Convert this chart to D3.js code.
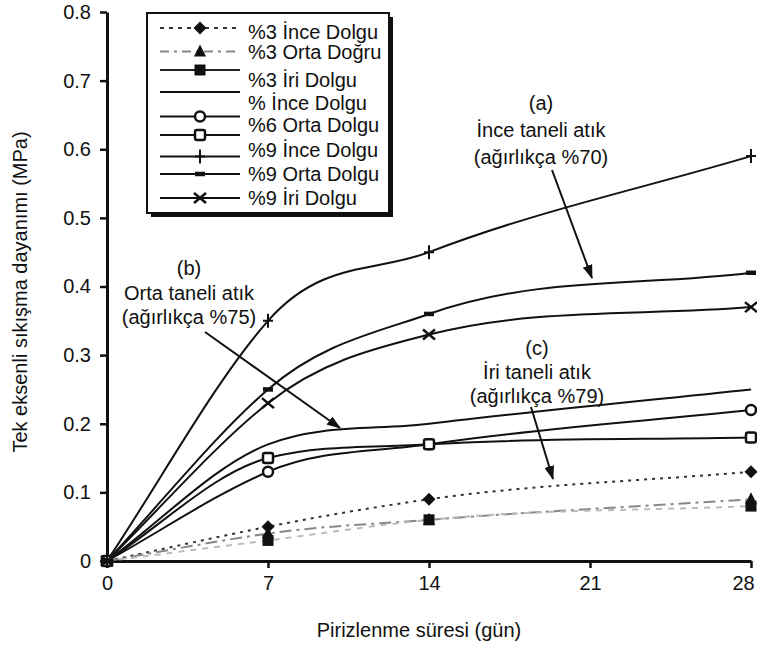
<!DOCTYPE html>
<html>
<head>
<meta charset="utf-8">
<script src="https://cdn.jsdelivr.net/npm/d3@7"></script>
<style>
  html, body { margin: 0; padding: 0; background: #fff; }
  svg text { font-family: "Liberation Sans", Arial, Helvetica, sans-serif; fill: #111; }
</style>
</head>
<body>
<svg id="chart" width="757" height="648"></svg>
<script>
// Curing time (days)
const days = [0, 7, 14, 28];

// Uniaxial compressive strength (MPa) per mix
const ince3 = [0, 0.05, 0.09, 0.13];
const orta3 = [0, 0.04, 0.06, 0.09];
const iri3  = [0, 0.03, 0.06, 0.08];
const ince6 = [0, 0.17, 0.20, 0.25];
const orta6 = [0, 0.15, 0.17, 0.18];
const iri6  = [0, 0.13, 0.17, 0.22];
const ince9 = [0, 0.35, 0.45, 0.59];
const orta9 = [0, 0.25, 0.36, 0.42];
const iri9  = [0, 0.23, 0.33, 0.37];

const xTicks = [0, 7, 14, 21, 28];
const yTicks = [0, 0.1, 0.2, 0.3, 0.4, 0.5, 0.6, 0.7, 0.8];

const legendLabels = [
  "%3 İnce Dolgu", "%3 Orta Doğru", "%3 İri Dolgu", "% İnce Dolgu",
  "%6 Orta Dolgu", "%9 İnce Dolgu", "%9 Orta Dolgu", "%9 İri Dolgu"
];

const series = [
  { values: ince3, symbol: "diamond",  color: "#333", dash: "3,5",      legendDash: "4,5" },
  { values: orta3, symbol: "triangle", color: "#888", dash: "12,5,3,5", legendDash: "9,5,3,5" },
  { values: iri3,  symbol: "square",   color: "#bbb", dash: "6,6",      legendDash: null, legendColor: "#222" },
  { values: ince6, symbol: "none",     color: "#111", dash: null },
  { values: iri6,  symbol: "circle",   color: "#111", dash: null },
  { values: orta6, symbol: "osquare",  color: "#111", dash: null },
  { values: ince9, symbol: "plus",     color: "#111", dash: null },
  { values: orta9, symbol: "dash",     color: "#111", dash: null },
  { values: iri9,  symbol: "x",        color: "#111", dash: null }
];

const annotations = [
  { lines: ["(a)", "İnce taneli atık", "(ağırlıkça %70)"], x: 541, y: 103, step: 27, from: [552, 170], to: [592, 278] },
  { lines: ["(b)", "Orta taneli atık", "(ağırlıkça %75)"], x: 189, y: 268, step: 24.5, from: [205, 332], to: [340, 428] },
  { lines: ["(c)", "İri taneli atık", "(ağırlıkça %79)"],  x: 537, y: 348, step: 24, from: [531, 407], to: [553, 479] }
];

const svg = d3.select("#chart");
const margin = { left: 107, top: 12, right: 6, bottom: 87 };
const W = 757, H = 648;
const fontSize = 20;

const x = d3.scaleLinear().domain([0, 28]).range([margin.left, W - margin.right]);
const y = d3.scaleLinear().domain([0, 0.8]).range([H - margin.bottom, margin.top]);

// Smooth curve through the points: cubic Hermite whose tangents lean on the
// incoming slope, limited so the curve does not overshoot.
function curveLeaning(context) { return new Leaning(context); }
class Leaning {
  constructor(context) { this._context = context; }
  areaStart() { this._line = 0; }
  areaEnd() { this._line = NaN; }
  lineStart() { this._pts = []; }
  point(px, py) { this._pts.push([+px, +py]); }
  lineEnd() {
    const p = this._pts, n = p.length, c = this._context;
    if (!n) return;
    c.moveTo(p[0][0], p[0][1]);
    if (n === 1) return;
    const s = [];
    for (let i = 0; i < n - 1; i++) s.push((p[i + 1][1] - p[i][1]) / (p[i + 1][0] - p[i][0]));
    const t = new Array(n);
    t[0] = s[0];
    t[n - 1] = s[n - 2];
    for (let i = 1; i < n - 1; i++) {
      const a = s[i - 1], b = s[i];
      if (a * b <= 0) { t[i] = 0; continue; }
      let v = (2 * a + b) / 3;
      const lim = 3 * Math.min(Math.abs(a), Math.abs(b));
      if (Math.abs(v) > lim) v = Math.sign(v) * lim;
      t[i] = v;
    }
    for (let i = 0; i < n - 1; i++) {
      const h = (p[i + 1][0] - p[i][0]) / 3;
      c.bezierCurveTo(p[i][0] + h, p[i][1] + t[i] * h,
                      p[i + 1][0] - h, p[i + 1][1] - t[i + 1] * h,
                      p[i + 1][0], p[i + 1][1]);
    }
  }
}

const defs = svg.append("defs");
defs.append("marker")
  .attr("id", "arrow").attr("viewBox", "0 0 14 10")
  .attr("refX", 13).attr("refY", 5)
  .attr("markerWidth", 14).attr("markerHeight", 10)
  .attr("markerUnits", "userSpaceOnUse")
  .attr("orient", "auto")
  .append("path").attr("d", "M0,0 L14,5 L0,10 Z").attr("fill", "#111");

// Axes
const xAxis = svg.append("g")
  .attr("transform", `translate(0,${y(0)})`)
  .call(d3.axisBottom(x).tickValues(xTicks).tickSize(7).tickSizeOuter(0).tickPadding(8).tickFormat(d3.format("d")));
const yAxis = svg.append("g")
  .attr("transform", `translate(${x(0)},0)`)
  .call(d3.axisLeft(y).tickValues(yTicks).tickSize(7).tickSizeOuter(0).tickPadding(9)
        .tickFormat(d => d === 0 ? "0" : d3.format(".1f")(d)));
[xAxis, yAxis].forEach(g => {
  g.select(".domain").attr("stroke", "#111").attr("stroke-width", 3);
  g.selectAll(".tick line").attr("stroke", "#111").attr("stroke-width", 2.5);
  g.selectAll(".tick text").attr("font-size", fontSize).attr("fill", "#111")
    .attr("font-family", "Liberation Sans, Arial, sans-serif");
});
// keep the last day label inside the frame
xAxis.selectAll(".tick text").filter(d => d === 28).attr("dx", -8);

svg.append("text")
  .attr("x", 419).attr("y", 637)
  .attr("text-anchor", "middle").attr("font-size", fontSize)
  .text("Pirizlenme süresi (gün)");
svg.append("text")
  .attr("transform", `translate(27,292) rotate(-90)`)
  .attr("text-anchor", "middle").attr("font-size", fontSize)
  .text("Tek eksenli sıkışma dayanımı (MPa)");

// Marker shapes
function drawSymbol(g, type, cx, cy) {
  const s = g.append("g").attr("transform", `translate(${cx},${cy})`);
  switch (type) {
    case "diamond":
      s.append("path").attr("d", "M0,-6.5L6.5,0L0,6.5L-6.5,0Z").attr("fill", "#111"); break;
    case "triangle":
      s.append("path").attr("d", "M0,-7L6,5L-6,5Z").attr("fill", "#111"); break;
    case "square":
      s.append("rect").attr("x", -5.5).attr("y", -5.5).attr("width", 11).attr("height", 11).attr("fill", "#111"); break;
    case "circle":
      s.append("circle").attr("r", 5).attr("fill", "#fff").attr("stroke", "#111").attr("stroke-width", 2.5); break;
    case "osquare":
      s.append("rect").attr("x", -5).attr("y", -5).attr("width", 10).attr("height", 10).attr("rx", 2)
        .attr("fill", "#fff").attr("stroke", "#111").attr("stroke-width", 2.5); break;
    case "plus":
      s.append("path").attr("d", "M0,-7V7M-5,0H5").attr("stroke", "#111").attr("stroke-width", 2); break;
    case "dash":
      s.append("path").attr("d", "M-5,0H5").attr("stroke", "#111").attr("stroke-width", 4.5); break;
    case "x":
      s.append("path").attr("d", "M-6,-5L6,5M-6,5L6,-5").attr("stroke", "#111").attr("stroke-width", 2.5); break;
  }
}

// Curves
const line = d3.line().x(d => x(d[0])).y(d => y(d[1])).curve(curveLeaning);
const plot = svg.append("g");
series.forEach(s => {
  const pts = days.map((d, i) => [d, s.values[i]]);
  plot.append("path")
    .attr("d", line(pts))
    .attr("fill", "none")
    .attr("stroke", s.color)
    .attr("stroke-width", 2)
    .attr("stroke-dasharray", s.dash);
});
series.forEach(s => {
  days.forEach((d, i) => drawSymbol(plot, s.symbol, x(d), y(s.values[i])));
});

// Annotations with arrows
annotations.forEach(a => {
  const t = svg.append("text").attr("text-anchor", "middle").attr("font-size", fontSize);
  a.lines.forEach((l, i) => {
    t.append("tspan").attr("x", a.x).attr("y", a.y + i * a.step).attr("dy", "0.35em").text(l);
  });
  svg.append("line")
    .attr("x1", a.from[0]).attr("y1", a.from[1])
    .attr("x2", a.to[0]).attr("y2", a.to[1])
    .attr("stroke", "#111").attr("stroke-width", 2)
    .attr("marker-end", "url(#arrow)");
});

// Legend
const lg = svg.append("g");
lg.append("rect").attr("x", 151).attr("y", 17).attr("width", 242).attr("height", 200).attr("fill", "#111");
lg.append("rect").attr("x", 147).attr("y", 13).attr("width", 242).attr("height", 200)
  .attr("fill", "#fff").attr("stroke", "#111").attr("stroke-width", 2);
const symRows = [28, 51.5, 70, 92, 116.5, 135, 156.5, 174, 198];
const txtRows = [31.5, 52, 80, 103, 125, 150, 173.5, 198];
series.forEach((s, i) => {
  const yy = symRows[i];
  lg.append("line").attr("x1", 160).attr("x2", 240).attr("y1", yy).attr("y2", yy)
    .attr("stroke", s.legendColor || s.color).attr("stroke-width", 2)
    .attr("stroke-dasharray", s.legendDash === undefined ? s.dash : s.legendDash);
  drawSymbol(lg, s.symbol, 200, yy);
});
legendLabels.forEach((l, i) => {
  lg.append("text").attr("x", 248).attr("y", txtRows[i]).attr("dy", "0.35em")
    .attr("font-size", fontSize).text(l);
});
</script>
</body>
</html>
